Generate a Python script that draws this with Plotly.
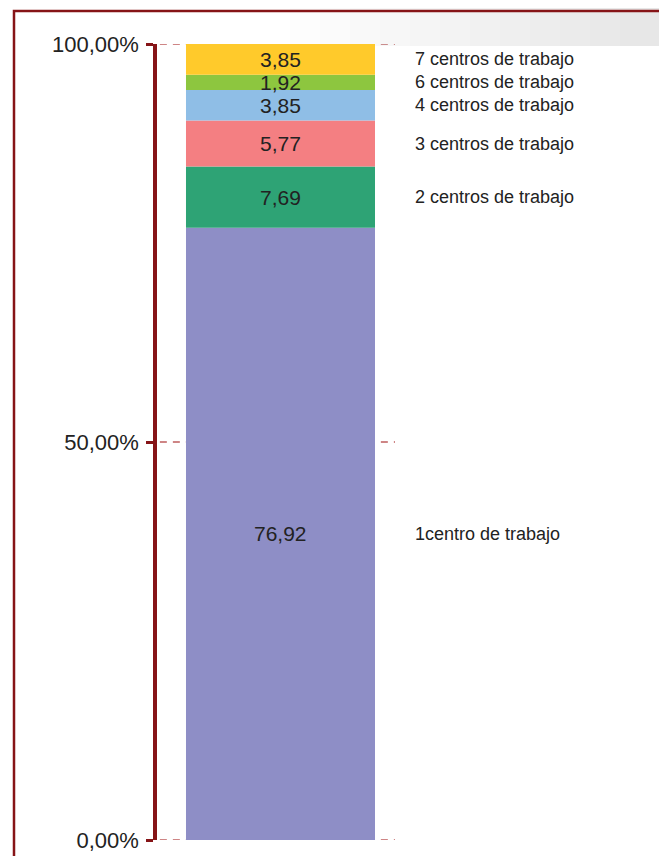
import plotly.graph_objects as go

categories = ["1centro de trabajo", "2 centros de trabajo", "3 centros de trabajo",
              "4 centros de trabajo", "6 centros de trabajo", "7 centros de trabajo"]
values = [76.92, 7.69, 5.77, 3.85, 1.92, 3.85]
colors = ["#8E8EC6", "#2EA375", "#F47F82", "#8FBEE6", "#8DC63F", "#FFCA2B"]
tick_vals = [0, 50, 100]
tick_text = ["0,00%", "50,00%", "100,00%"]

DARK = "#861417"
FONT = "Liberation Sans"

# plot area geometry (pixels): 238 wide, 796 high
PW, PH = 238, 796

fig = go.Figure()

# dashed gridlines (drawn as shapes so the edge lines show)
for tv in tick_vals:
    fig.add_shape(type="line", xref="paper", yref="y", x0=0.012, x1=1.0, y0=tv, y1=tv,
                  line=dict(color="#BF5E5E", width=1.6, dash="7px,6px"), layer="below")

base = 0.0
for cat, v, c in zip(categories, values, colors):
    fig.add_trace(go.Bar(
        x=[0], y=[v], base=[base], width=1, name=cat,
        marker=dict(color=c, line=dict(width=0)),
        hoverinfo="skip", showlegend=False,
    ))
    fig.add_annotation(
        x=0, y=base + v / 2, xref="x", yref="y",
        text=f"{v:.2f}".replace(".", ","), showarrow=False,
        xanchor="center", yanchor="middle",
        font=dict(family=FONT, size=21, color="#222222"),
    )
    fig.add_annotation(
        x=(413 - 157) / PW, y=base + v / 2, xref="paper", yref="y", text=cat,
        showarrow=False, xanchor="left", yanchor="middle",
        font=dict(family=FONT, size=18, color="#222222"),
    )
    base += v

# soft grey band at the top right
for i in range(12):
    x0px = 290 + i * 30
    fig.add_shape(type="rect", xref="paper", yref="paper",
                  x0=(x0px - 157) / PW, x1=(700 - 157) / PW,
                  y0=(840 - 46) / PH, y1=(840 + 10) / PH,
                  fillcolor="#BDBDBD", opacity=0.035, line=dict(width=0), layer="below")

# outer frame
fig.add_shape(type="rect", xref="paper", yref="paper",
              x0=(14 - 157) / PW, x1=(661 - 157) / PW,
              y0=-0.1, y1=(840 - 11) / PH,
              line=dict(color=DARK, width=2.5), fillcolor="rgba(0,0,0,0)", layer="above")

fig.update_layout(
    width=651, height=848,
    margin=dict(l=149, r=264, t=36, b=16, autoexpand=False),
    paper_bgcolor="white", plot_bgcolor="rgba(0,0,0,0)",
    barmode="overlay",
    xaxis=dict(range=[-0.6534, 0.6058], visible=False, fixedrange=True, automargin=False),
    yaxis=dict(
        range=[0, 100], tickvals=tick_vals, ticktext=tick_text,
        showline=True, linecolor=DARK, linewidth=3.5,
        ticks="outside", ticklen=7, tickwidth=3, tickcolor=DARK,
        showgrid=False, zeroline=False, automargin=False,
        tickfont=dict(family=FONT, size=22, color="#222222"),
        ticklabelstandoff=3,
    ),
    font=dict(family=FONT),
)

fig.write_html("out.html")
